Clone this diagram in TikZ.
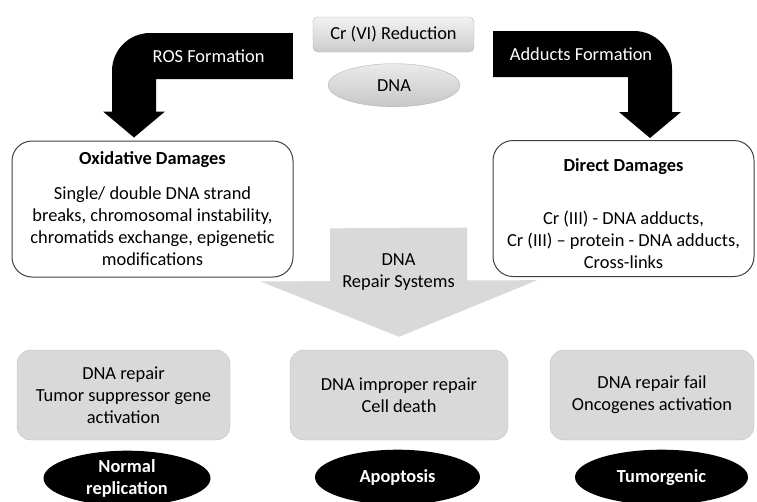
\documentclass[tikz,border=0pt]{standalone}
\usepackage{fontspec}
\setmainfont{Carlito}
\usepackage{tikz}
\usetikzlibrary{arrows.meta,positioning,shapes.geometric,calc}
\pgfdeclarelayer{background}
\pgfsetlayers{background,main}
\tikzstyle{redu}=[draw=black!30, top color=black!5, bottom color=black!20, rounded corners=5pt,
  minimum width=161pt, minimum height=35pt, inner sep=0pt]
\tikzstyle{dna}=[ellipse, draw=black!30, top color=black!8, bottom color=black!22,
  minimum width=132pt, minimum height=43pt, inner sep=0pt]
\tikzstyle{dmg}=[draw=black!75, fill=white, line width=1pt, rounded corners=20pt,
  minimum height=136pt, inner sep=0pt, align=center]
\tikzstyle{fate}=[draw=black!25, fill=black!15, rounded corners=14pt,
  minimum height=90pt, inner sep=0pt, align=center]
\tikzstyle{outc}=[ellipse, fill=black, text=white, font=\fontsize{18.4}{22}\selectfont\bfseries,
  align=center, minimum height=55pt, inner sep=0pt]
\tikzstyle{bentarrow}=[fill=black]
\tikzstyle{repair}=[draw=black!15, line width=137pt, -{Triangle[width=275pt,length=56pt]}]
\newcommand{\dmg}[3]{node (p#1)[dmg, minimum width=#2]{#3}}
\newcommand{\fate}[3]{node (p#1)[fate, minimum width=#2]{#3}}
\newcommand{\outc}[3]{node (p#1)[outc, minimum width=#2]{#3}}

\begin{document}
\begin{tikzpicture}[x=1pt,y=1pt,font=\fontsize{18.4}{22}\selectfont]
	\useasboundingbox (0,0) rectangle (757,-501);

	% Draw diagram elements
	\path (393.5,-34.5) node (p1)[redu]{Cr (VI) Reduction};
	\path (p1.south)+(0.5,-33) node (p2)[dna]{DNA};

	\path (152.5,-209) \dmg{3}{281pt}{\textbf{Oxidative Damages}\\[13pt]
		Single/ double DNA strand\\ breaks, chromosomal instability,\\
		chromatids exchange, epigenetic\\ modifications};
	\path (623.5,-208.5) \dmg{4}{261pt}{\rule{0pt}{24pt}\textbf{Direct Damages}\\[31pt]
		Cr (III) - DNA adducts,\\ Cr (III) – protein - DNA adducts,\\ Cross-links};

	\coordinate (p5a) at (398.5,-228);
	\path (398.5,-272) node (p5)[align=center]{DNA\\Repair Systems};

	\path (123.5,-395) \fate{6}{213pt}{DNA repair\\ Tumor suppressor gene\\ activation};
	\path (399,-395) \fate{7}{218pt}{DNA improper repair\\ Cell death};
	\path (652,-395) \fate{8}{204pt}{DNA repair fail\\ Oncogenes activation};

	\path (p6.south)+(3.5,-38) \outc{9}{167pt}{Normal\\ replication};
	\path (p7.south)+(-1.5,-37) \outc{10}{165pt}{Apoptosis};
	\path (p8.south)+(9.5,-37) \outc{11}{173pt}{Tumorgenic};

	% Draw arrows between elements
	\coordinate (c1) at ([xshift=-20pt,yshift=-21.5pt]p1.west);
	\coordinate (t1) at ([xshift=-18.5pt,yshift=3pt]p3.north);
	\coordinate (c2) at ([xshift=19pt,yshift=-19.5pt]p1.east);
	\coordinate (t2) at ([xshift=26.5pt,yshift=2pt]p4.north);
	\path [bentarrow] ($(c1)+(0,23)$) -- ($(t1|-c1)+(16,23)$)
		arc[start angle=90, end angle=180, radius=38pt] -- ($(t1)+(-22,26)$)
		-- ($(t1)+(-31,26)$) -- (t1) -- ($(t1)+(31,26)$) -- ($(t1)+(22,26)$)
		-- ($(t1|-c1)+(22,-23)$) -- ($(c1)+(0,-23)$) -- cycle;
	\path [bentarrow] ($(c2)+(0,23)$) -- ($(t2|-c2)+(-16,23)$)
		arc[start angle=90, end angle=0, radius=38pt] -- ($(t2)+(22,26)$)
		-- ($(t2)+(31,26)$) -- (t2) -- ($(t2)+(-31,26)$) -- ($(t2)+(-22,26)$)
		-- ($(t2|-c2)+(-22,-23)$) -- ($(c2)+(0,-23)$) -- cycle;
	\path (c1) -- node [pos=.53, text=white] {ROS Formation} (t1|-c1);
	\path (c2) -- node [pos=.56, text=white] {Adducts Formation} (t2|-c2);
	\begin{pgfonlayer}{background}
	\path [repair] (p5a) -- ([yshift=13pt]p7.north);
	\end{pgfonlayer}

\end{tikzpicture}
\end{document}
